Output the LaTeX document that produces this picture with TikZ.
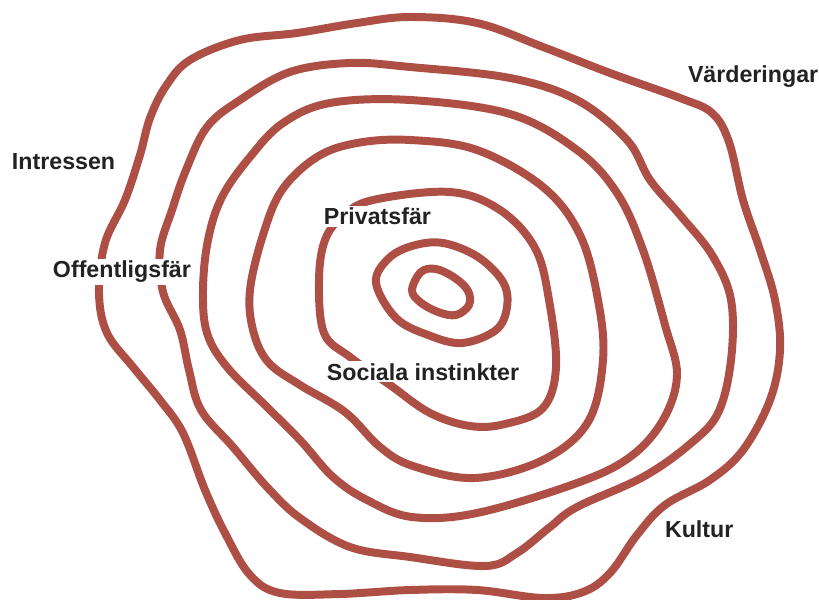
\documentclass[tikz,border=0pt]{standalone}
\usepackage{fontspec}
\setmainfont{Liberation Sans}
\usepackage{tikz}
\definecolor{ringred}{RGB}{174,79,69}
\definecolor{labelgrey}{RGB}{34,34,34}
\tikzset{
	ring/.style={draw=ringred,line width=6.8pt,line cap=round,line join=round},
	lbl/.style={fill=white,inner sep=1.5pt,anchor=base west,text=labelgrey,font=\fontsize{19.8}{22}\selectfont\bfseries}
}

\begin{document}
\begin{tikzpicture}[x=0.03cm,y=-0.03cm]
						\useasboundingbox (0,0) rectangle (819,600);

						% rings, inside out
						\draw [ring] plot [smooth cycle,tension=0.6] coordinates {(412,290) (421,272) (436,269) (455,278) (468,291) (469,305) (456,315) (438,312) (420,302)};
						\draw [ring] plot [smooth cycle,tension=0.6] coordinates {(376,283) (388,259) (412,246) (443,243) (478,257) (503,282) (507,307) (496,330) (462,343) (428,335) (396,318)};
						\draw [ring] plot [smooth cycle,tension=0.6] coordinates {(373,200) (450,192) (500,210) (535,248) (549,300) (556,367) (543,408) (505,424) (470,426) (430,413) (390,385) (350,357) (324,333) (319,280) (325,240) (343,216)};
						\draw [ring] plot [smooth cycle,tension=0.6] coordinates {(410,140) (477,150) (543,187) (580,235) (598,300) (603,360) (588,422) (543,460) (475,478) (413,466) (380,447) (345,412) (300,385) (268,362) (253,330) (250,290) (263,235) (282,190) (317,157) (357,143)};
						\draw [ring] plot [smooth cycle,tension=0.6] coordinates {(410,100) (510,114) (577,150) (617,193) (643,250) (665,325) (677,375) (663,420) (630,457) (577,483) (477,513) (412,517) (367,500) (333,477) (300,440) (267,407) (227,367) (207,333) (203,290) (208,240) (222,197) (250,157) (283,123) (330,103)};
						\draw [ring] plot [smooth cycle,tension=0.6] coordinates {(410,67) (510,78) (577,100) (627,140) (650,180) (680,215) (712,255) (731,300) (731,360) (718,413) (690,444) (643,477) (577,507) (550,527) (517,553) (485,566) (410,557) (350,547) (300,518) (267,487) (233,447) (201,410) (189,370) (180,330) (163,292) (160,250) (172,210) (186,170) (207,127) (240,100) (290,72) (350,63)};
						\draw [ring] plot [smooth cycle,tension=0.6] coordinates {(410,17) (477,23) (543,47) (610,73) (680,98) (712,113) (729,142) (743,200) (760,250) (775,300) (780,350) (770,400) (743,450) (710,480) (665,505) (637,535) (610,573) (583,592) (543,598) (477,590) (410,590) (340,594) (280,593) (250,575) (226,535) (205,490) (183,433) (160,400) (133,367) (107,333) (99,293) (105,243) (125,200) (140,155) (150,118) (166,86) (190,60) (240,40) (297,33) (357,23)};

						% labels
						\node [lbl] (intressen) at (10,170) {Intressen};
						\node [lbl] (varderingar) at (686,83) {Värderingar};
						\node [lbl] (offentlig) at (51,278) {Offentligsfär};
						\node [lbl] (privat) at (322,225) {Privatsfär};
						\node [lbl] (sociala) at (325,380) {Sociala instinkter};
						\node [lbl] (kultur) at (663,537) {Kultur};
					\end{tikzpicture}
\end{document}
